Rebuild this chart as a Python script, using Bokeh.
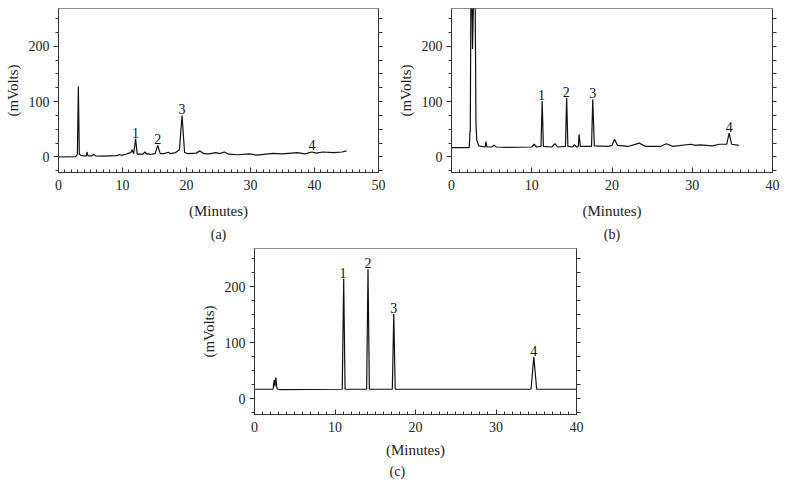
from bokeh.plotting import figure
from bokeh.models import (Range1d, LinearAxis, SingleIntervalTicker, FixedTicker, Title,
                          ColumnDataSource, Spacer)
from bokeh.layouts import column, row
from bokeh.embed import file_html
from bokeh.resources import INLINE

# ---------------- data ----------------
time_a = [0, 2.7, 2.95, 3.1, 3.25, 3.5, 4.0, 4.35, 4.45, 4.6, 5.2, 5.5, 5.8, 7.0, 9.0, 9.3, 9.5,
          9.8, 10.5, 11.0, 11.3, 11.5, 11.75, 12.05, 12.3, 12.6, 13.2, 13.5, 13.8, 14.0, 14.3,
          15.1, 15.5, 15.9, 16.5, 17.2, 17.5, 18.3, 18.9, 19.3, 19.7, 20.2, 21.5, 22.1, 22.7,
          23.5, 24.6, 25.2, 25.9, 26.6, 28.0, 29.8, 31.0, 33.5, 35.0, 37.3, 38.5, 39.6, 40.3,
          41.3, 43.0, 44.3, 45.0]
mv_a = [0, 0.5, 5, 127, 5, 3, 2, 2, 9, 2, 2, 5, 2, 1.5, 2.5, 3, 4.5,
        3, 5, 7, 8, 13, 6, 33, 5, 5, 5, 9, 5, 6, 4.5,
        6, 21, 6, 6, 8.5, 6, 8, 13, 75, 8, 6, 7, 11, 6,
        5.5, 8, 6, 9, 5, 4, 5.5, 3.5, 6.5, 5.5, 8, 5.5, 9, 7,
        9, 8, 9, 11]

time_b = [0, 2.2, 2.26, 2.3, 2.34, 2.45, 2.62, 2.9, 3.05, 3.15, 3.4, 4.2, 4.3, 4.4, 5.0, 5.3,
          5.6, 7.0, 10.0, 10.3, 10.6, 11.15, 11.3, 11.45, 12.5, 12.9, 13.2, 14.2, 14.35, 14.5,
          15.1, 15.3, 15.6, 15.8, 15.9, 16.05, 17.45, 17.6, 17.8, 19.5, 20.0, 20.3, 20.7, 22.0,
          23.4, 24.2, 26.0, 26.8, 27.6, 29.8, 30.4, 31.0, 32.5, 33.4, 34.3, 34.6, 34.9, 35.8]
mv_b = [17, 17, 30, 47, 45, 400, 195, 400, 60, 30, 20, 18, 28, 18, 18, 21,
        18, 17.5, 18, 23, 18, 19, 101, 19, 18, 24, 18, 19, 107, 19,
        18, 22, 18, 19, 41, 19, 19, 104, 20, 19, 21, 32, 21, 19,
        25, 19, 19, 24, 19, 23, 21, 22, 20, 23, 23, 43, 23, 21]

time_c = [0, 2.3, 2.45, 2.55, 2.65, 2.8, 3.1, 10.9, 11.08, 11.25, 13.93, 14.1, 14.27,
          17.12, 17.3, 17.48, 34.35, 34.7, 35.05, 40.0]
mv_c = [17, 17, 34, 22, 38, 18, 16.5, 17, 214, 17, 17, 231, 17,
        17, 151, 17, 17, 75, 17, 17]

peak_names = ["1", "2", "3", "4"]
peak_a_x = [12.05, 15.5, 19.3, 39.6]
peak_a_y = [35, 23, 77, 12]
peak_b_x = [11.2, 14.3, 17.6, 34.6]
peak_b_y = [103, 109, 106, 45]
peak_c_x = [11.0, 14.1, 17.3, 34.7]
peak_c_y = [216, 233, 153, 77]

x_max_a = 50
x_max_b = 40
x_max_c = 40
y_min, y_max = -28, 268
right_ticks = [-25, 0, 25, 50, 75, 100, 125, 150, 175, 200, 225, 250]

FONT = "Liberation Serif"


def panel(tx, ty, lx, ly, xmax, caption, width, height, bl, br, bt, bb,
          cap_align="center", cap_offset=0, xlab_standoff=10, cap_standoff=6):
    p = figure(width=width, height=height, x_range=Range1d(0, xmax), y_range=Range1d(y_min, y_max),
               output_backend="svg", toolbar_location=None, x_axis_location=None,
               y_axis_location=None, min_border_left=bl, min_border_right=br,
               min_border_top=bt, min_border_bottom=bb)
    p.grid.visible = False
    p.outline_line_color = "#8a8a8a"
    p.background_fill_color = "white"
    p.border_fill_color = "white"

    xax = LinearAxis(ticker=SingleIntervalTicker(interval=10, num_minor_ticks=10),
                     axis_label="(Minutes)")
    xax.major_tick_in = 5
    xax.major_tick_out = 0
    xax.minor_tick_in = 3
    xax.minor_tick_out = 0
    yax = LinearAxis(ticker=SingleIntervalTicker(interval=100, num_minor_ticks=4),
                     axis_label="(mVolts)")
    yax.major_tick_in = 0
    yax.major_tick_out = 5
    yax.minor_tick_in = 0
    yax.minor_tick_out = 3
    rax = LinearAxis(ticker=FixedTicker(ticks=[], minor_ticks=right_ticks))
    rax.major_tick_in = 0
    rax.major_tick_out = 0
    rax.minor_tick_in = 0
    rax.minor_tick_out = 4
    rax.major_label_standoff = 0
    for ax in (xax, yax, rax):
        ax.axis_line_color = "#333333"
        ax.major_tick_line_color = "#333333"
        ax.minor_tick_line_color = "#333333"
        ax.major_label_text_font = FONT
        ax.major_label_text_font_size = "14px"
        ax.major_label_text_color = "#222222"
        ax.axis_label_text_font = FONT
        ax.axis_label_text_font_style = "normal"
        ax.axis_label_text_font_size = "15px"
        ax.axis_label_text_color = "#222222"
    xax.major_label_standoff = 7
    xax.axis_label_standoff = xlab_standoff
    yax.major_label_standoff = 4
    yax.axis_label_standoff = 5
    p.add_layout(xax, "below")
    p.add_layout(yax, "left")
    p.add_layout(rax, "right")

    p.add_layout(Title(text=caption, align=cap_align, offset=cap_offset, text_font=FONT,
                       text_font_size="14px", text_font_style="normal", text_color="#222222",
                       standoff=cap_standoff), "below")

    p.line(x=tx, y=ty, line_color="#111111", line_width=1.2)
    src = ColumnDataSource(dict(x=lx, y=ly, t=peak_names))
    p.text(x="x", y="y", text="t", source=src, text_align="center", text_baseline="bottom",
           text_font_size="14px", text_color="#111111", text_font={"value": FONT})
    return p


pa = panel(time_a, mv_a, peak_a_x, peak_a_y, x_max_a, "(a)", 387, 244, 58, 9, 8, 71)
pb = panel(time_b, mv_b, peak_b_x, peak_b_y, x_max_b, "(b)", 398, 244, 64, 13, 8, 71)
pc = panel(time_c, mv_c, peak_c_x, peak_c_y, x_max_c, "(c)", 400, 250, 64, 14, 4, 80,
           cap_align="left", cap_offset=135, xlab_standoff=7, cap_standoff=2)

layout = column(row(pa, pb), row(Spacer(width=190, height=250), pc))

with open("out.html", "w") as f:
    f.write(file_html(layout, INLINE))
